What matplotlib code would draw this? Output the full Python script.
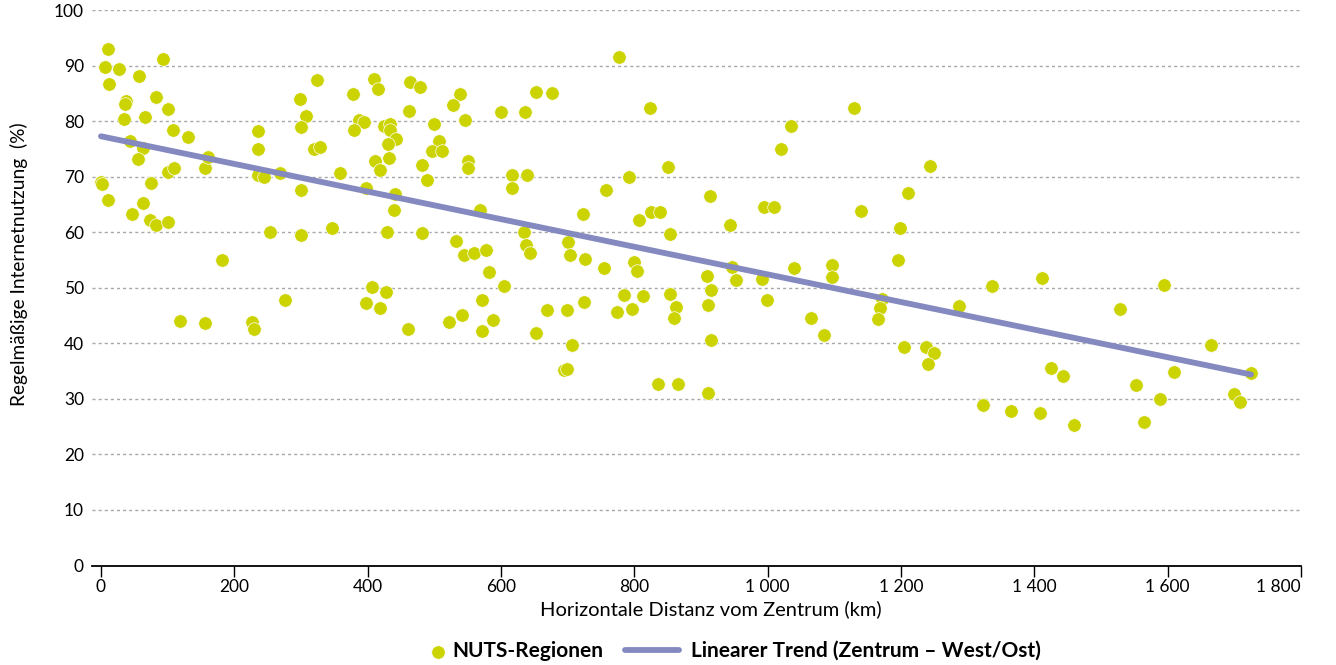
import matplotlib.pyplot as plt
from matplotlib.ticker import FuncFormatter
from matplotlib.legend_handler import HandlerPathCollection
from matplotlib.collections import PathCollection

# NUTS regions: horizontal distance from centre (km) vs. regular internet use (%)
dist_km = [
    10, 6, 27, 12, 57, 93, 38, 36, 82, 100,
    34, 66, 108, 130, 44, 63, 56, 0, 1, 10,
    75, 100, 109, 156, 160, 46, 63, 74, 82, 100,
    236, 236, 236, 244, 269, 300, 298, 307, 300, 324,
    319, 329, 359, 347, 254, 300, 181, 276, 118, 156,
    227, 230, 409, 416, 464, 478, 378, 539, 528, 652,
    677, 462, 600, 636, 387, 395, 379, 424, 434, 434,
    443, 430, 499, 546, 507, 497, 512, 411, 418, 432,
    482, 489, 550, 550, 616, 639, 616, 398, 441, 440,
    568, 429, 482, 532, 544, 559, 577, 634, 637, 644,
    582, 604, 406, 428, 397, 418, 571, 541, 522, 588,
    571, 461, 652, 669, 777, 823, 1035, 1020, 851, 792,
    758, 914, 723, 807, 825, 839, 943, 995, 1009, 853,
    700, 704, 726, 754, 800, 804, 909, 947, 952, 992,
    1039, 915, 910, 999, 699, 725, 784, 813, 774, 796,
    854, 862, 859, 915, 706, 694, 699, 836, 866, 910,
    1129, 1244, 1210, 1140, 1199, 1196, 1096, 1097, 1337, 1172,
    1169, 1165, 1287, 1065, 1085, 1205, 1237, 1250, 1241, 1323,
    1365, 1408, 1459, 1412, 1594, 1528, 1665, 1725, 1425, 1443,
    1609, 1552, 1588, 1699, 1708, 1565,
]
internet_pct = [
    93.1, 89.8, 89.5, 86.7, 88.2, 91.2, 83.7, 83.2, 84.3, 82.3,
    80.4, 80.8, 78.5, 77.2, 76.5, 75.2, 73.2, 69.1, 68.7, 65.8,
    68.9, 70.8, 71.6, 71.5, 73.6, 63.3, 65.2, 62.3, 61.3, 61.9,
    78.3, 75.0, 70.4, 69.9, 70.7, 67.6, 84.0, 80.9, 79.0, 87.5,
    75.1, 75.4, 70.7, 60.8, 60.1, 59.6, 55.0, 47.9, 44.1, 43.7,
    43.9, 42.6, 87.6, 85.8, 87.1, 86.2, 84.9, 84.9, 82.9, 85.2,
    85.1, 81.8, 81.7, 81.7, 80.3, 79.8, 78.4, 79.2, 79.6, 78.4,
    76.8, 75.9, 79.6, 80.2, 76.5, 74.7, 74.7, 72.8, 71.2, 73.3,
    72.1, 69.4, 72.8, 71.5, 70.4, 70.3, 68.0, 68.0, 66.9, 64.1,
    64.1, 60.0, 59.8, 58.4, 55.9, 56.3, 56.9, 60.1, 57.7, 56.2,
    52.9, 50.4, 50.1, 49.3, 47.2, 46.4, 47.8, 45.2, 43.8, 44.3,
    42.3, 42.6, 41.8, 46.0, 91.6, 82.4, 79.1, 75.1, 71.8, 70.0,
    67.7, 66.6, 63.3, 62.2, 63.7, 63.7, 61.3, 64.5, 64.5, 59.7,
    58.3, 56.0, 55.2, 53.5, 54.7, 53.0, 52.2, 53.8, 51.5, 51.6,
    53.5, 49.7, 47.0, 47.9, 46.1, 47.5, 48.7, 48.5, 45.6, 46.2,
    48.9, 46.5, 44.6, 40.7, 39.8, 35.2, 35.4, 32.6, 32.7, 31.1,
    82.4, 71.9, 67.1, 63.8, 60.8, 55.1, 54.2, 52.0, 50.3, 48.0,
    46.4, 44.4, 46.7, 44.6, 41.5, 39.3, 39.3, 38.3, 36.3, 28.9,
    27.9, 27.4, 25.3, 51.7, 50.6, 46.2, 39.7, 34.6, 35.5, 34.1,
    34.8, 32.5, 29.9, 30.8, 29.5, 25.9,
]

# linear trend, end points
trend_km = [0, 1725]
trend_pct = [77.3, 34.4]

x_ticks = [0, 200, 400, 600, 800, 1000, 1200, 1400, 1600, 1800]
y_ticks = [0, 10, 20, 30, 40, 50, 60, 70, 80, 90, 100]

point_color = '#cbd300'
line_color = '#8489c0'


class MarkerAtRight(HandlerPathCollection):
    # put the legend dot next to its text instead of in the middle of the handle box
    def get_xdata(self, legend, xdescent, ydescent, width, height, fontsize):
        x = -xdescent + width - 0.1 * fontsize
        return [x], [x]


plt.rcParams['font.family'] = ['Lato', 'DejaVu Sans']

fig = plt.figure(figsize=(13.36, 6.65), dpi=100)
ax = fig.add_axes([0.0691, 0.1496, 0.9047, 0.835])

ax.scatter(dist_km, internet_pct, s=95, color=point_color,
           edgecolors='white', linewidths=0.5, zorder=3, label='NUTS-Regionen')
ax.plot(trend_km, trend_pct, color=line_color, lw=4.2, solid_capstyle='round',
        zorder=4, label='Linearer Trend (Zentrum – West/Ost)')

ax.set_xlim(-13, 1800)
ax.set_ylim(0, 100)
ax.set_xticks(x_ticks)
ax.set_yticks(y_ticks)
ax.xaxis.set_major_formatter(FuncFormatter(lambda v, p: f'{int(v):,}'.replace(',', ' ')))

for y in y_ticks[1:]:
    ax.axhline(y, color='#a8a8a8', lw=1.0, dashes=(2.2, 2.2), zorder=1)

for side in ['top', 'right', 'left']:
    ax.spines[side].set_visible(False)
ax.spines['bottom'].set_linewidth(1.3)
ax.spines['bottom'].set_color('black')

ax.tick_params(axis='x', length=8, width=1, direction='out', labelsize=12.5, pad=1.5)
ax.tick_params(axis='y', length=0, labelsize=12.5, pad=6)
ax.get_xticklabels()[-1].set_horizontalalignment('right')

ax.set_xlabel('Horizontale Distanz vom Zentrum (km)', fontsize=14.5)
ax.xaxis.set_label_coords(0.512, -0.063)
ax.set_ylabel('Regelmäßige Internetnutzung  (%)', fontsize=13.8)
ax.yaxis.set_label_coords(-0.053, 0.543)

fig.legend(loc='center', bbox_to_anchor=(0.5344, 0.021), ncol=2, frameon=False,
           prop={'weight': 'bold', 'size': 15}, handlelength=2.55,
           columnspacing=1.05, handletextpad=0.58,
           handler_map={PathCollection: MarkerAtRight()})

fig.savefig('out.png', dpi=100)
